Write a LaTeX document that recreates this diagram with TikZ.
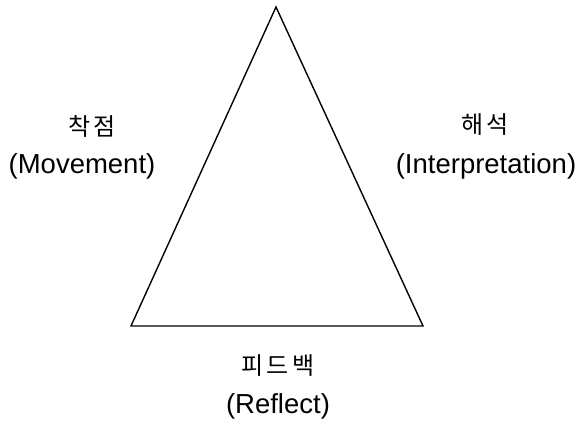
\documentclass[tikz,border=0pt]{standalone}
\usepackage{fontspec}
\setmainfont{Liberation Sans}
\newfontfamily\krfont[LetterSpace=14]{Noto Sans CJK KR}
\usetikzlibrary{positioning}
\tikzset{
    kor/.style={font=\krfont\fontsize{24}{28}\selectfont, inner sep=0pt, anchor=base},
    eng/.style={font=\fontsize{27.5}{33}\selectfont, inner sep=0pt, anchor=base}
}

\begin{document}
\begin{tikzpicture}[
    x=1pt, y=-1pt,
    line width=1.4pt
]
    \useasboundingbox (0,0) rectangle (582,423);

    % Ecken
    \coordinate (top)   at (276,7);
    \coordinate (left)  at (131,326);
    \coordinate (right) at (423,326);

    \draw[line join=miter] (top) -- (left) -- (right) -- cycle;

    % Beschriftungen
    \node[kor] (movk) at (92,135)  {착점};
    \node[eng] (move) at (82,173)  {(Movement)};

    \node[kor] (intk) at (485,133) {해석};
    \node[eng] (inte) at (486,173) {(Interpretation)};

    \node[kor] (refk) at (278,374) {피드백};
    \node[eng] (refe) at (278,413) {(Reflect)};

\end{tikzpicture}
\end{document}
